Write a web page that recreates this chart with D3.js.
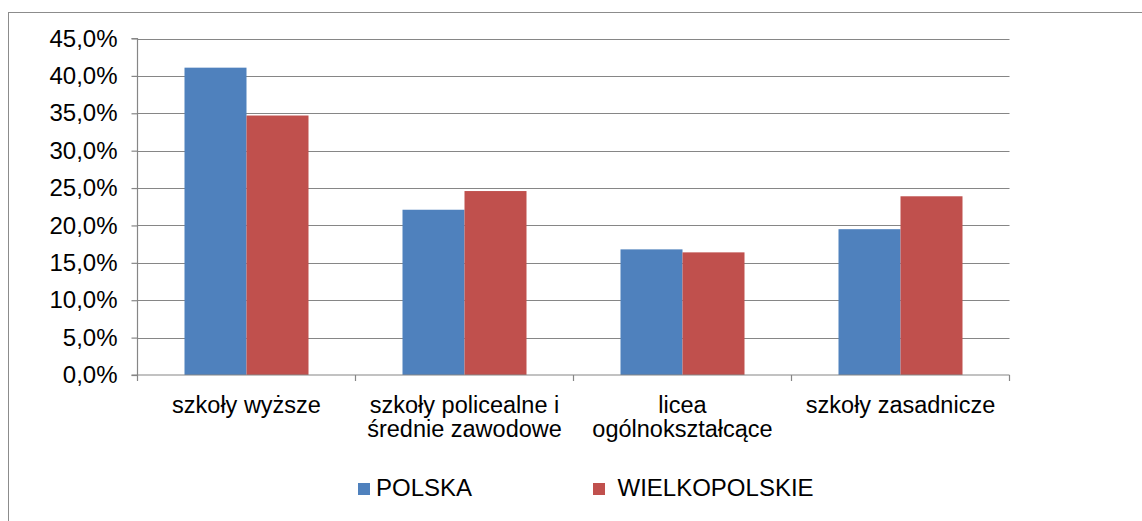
<!DOCTYPE html>
<html>
<head>
<meta charset="utf-8">
<script src="https://cdn.jsdelivr.net/npm/d3@7"></script>
<style>
  html, body { margin: 0; padding: 0; background: #fff; }
  svg { display: block; font-family: "Liberation Sans", Arial, sans-serif; }
</style>
</head>
<body>
<svg id="chart" width="1142" height="521"></svg>
<script>
const categories = ["szkoły wyższe", "szkoły policealne i średnie zawodowe", "licea ogólnokształcące", "szkoły zasadnicze"];
const seriesNames = ["POLSKA", "WIELKOPOLSKIE"];
const polska = [41.1, 22.1, 16.8, 19.5];
const wielkopolskie = [34.7, 24.6, 16.4, 23.9];
const yTicks = [0, 5, 10, 15, 20, 25, 30, 35, 40, 45];
const colors = ["#4F81BD", "#C0504D"];

(function () {
const svg = d3.select("#chart");
const W = 1142, H = 521;

// outer border
svg.append("rect").attr("x", 8.5).attr("y", 12.5).attr("width", W + 10).attr("height", H + 10)
  .attr("fill", "#fff").attr("stroke", "#8c8c8c").attr("stroke-width", 1);

const pLeft = 137.5, pRight = 1009.5, pTop = 38.5, pBottom = 375;
const x0 = d3.scaleBand().domain(categories).range([pLeft, pRight]).paddingInner(0).paddingOuter(0);
const bw = x0.bandwidth();
const x1 = d3.scaleBand().domain(seriesNames).range([bw * 0.2156, bw * 0.7844]).padding(0);
const y = d3.scaleLinear().domain([0, 45]).range([pBottom, pTop]);

const fmt = v => v.toFixed(1).replace(".", ",") + "%";

// gridlines
svg.append("g").selectAll("line").data(yTicks.filter(t => t > 0)).join("line")
  .attr("x1", pLeft).attr("x2", pRight)
  .attr("y1", d => Math.round(y(d)) + 0.5).attr("y2", d => Math.round(y(d)) + 0.5)
  .attr("stroke", "#868686").attr("stroke-width", 1.2);

// bars
const data = categories.map((c, i) => ({ c, vals: [polska[i], wielkopolskie[i]] }));
const groups = svg.append("g").selectAll("g").data(data).join("g")
  .attr("transform", d => `translate(${x0(d.c)},0)`);
groups.selectAll("rect").data(d => d.vals.map((v, j) => ({ v, s: seriesNames[j], j })))
  .join("rect")
  .attr("x", d => x1(d.s))
  .attr("width", x1.bandwidth())
  .attr("y", d => y(d.v))
  .attr("height", d => y(0) - y(d.v))
  .attr("fill", d => colors[d.j]);

// y axis
const yAxis = d3.axisLeft(y).tickValues(yTicks).tickSize(6).tickPadding(14).tickFormat(fmt);
const gy = svg.append("g").attr("transform", `translate(${pLeft},0)`).call(yAxis);
gy.select(".domain").attr("stroke", "#868686").attr("stroke-width", 1.2).attr("d", `M-6,${pTop}H0V${pBottom}H-6`);
gy.selectAll(".tick line").attr("stroke", "#868686").attr("stroke-width", 1.2);
gy.selectAll(".tick text").attr("font-size", 24).attr("fill", "#000")
  .attr("font-family", "'Liberation Sans', Arial, sans-serif");

// x axis
const xAxis = d3.axisBottom(x0).tickSize(0).tickPadding(0);
const gx = svg.append("g").attr("transform", `translate(0,${pBottom})`).call(xAxis);
gx.select(".domain").attr("stroke", "#868686").attr("stroke-width", 1.2).attr("d", `M${pLeft},0H${pRight}`);
gx.selectAll("line.bound").data(categories.map(c => x0(c)).concat([pRight])).join("line")
  .attr("class", "bound")
  .attr("x1", d => d).attr("x2", d => d).attr("y1", 0).attr("y2", 6)
  .attr("stroke", "#868686").attr("stroke-width", 1.2);
gx.selectAll(".tick text").attr("font-size", 23.5).attr("fill", "#000")
  .attr("font-family", "'Liberation Sans', Arial, sans-serif")
  .attr("dy", null).attr("y", 38)
  .each(function(d) {
    const t = d3.select(this);
    const words = d.split(" ");
    t.text(null);
    let lines = [], cur = [];
    const tmp = t.append("tspan");
    words.forEach(w => {
      cur.push(w);
      tmp.text(cur.join(" "));
      if (tmp.node().getComputedTextLength() > bw - 8 && cur.length > 1) {
        cur.pop(); lines.push(cur.join(" ")); cur = [w];
      }
    });
    lines.push(cur.join(" "));
    tmp.remove();
    lines.forEach((l, i) => t.append("tspan").attr("x", 0).attr("y", 38 + i * 24).text(l));
  });

// legend
const legX = [358, 593];
const leg = svg.append("g").selectAll("g").data(seriesNames).join("g")
  .attr("transform", (d, i) => `translate(${legX[i]},483)`);
leg.append("rect").attr("width", 12).attr("height", 12).attr("fill", (d, i) => colors[i]);
leg.append("text").attr("x", (d, i) => i === 0 ? 18 : 24.5).attr("y", 13)
  .attr("font-size", 24).attr("fill", "#000").text(d => d);
})();
</script>
</body>
</html>
